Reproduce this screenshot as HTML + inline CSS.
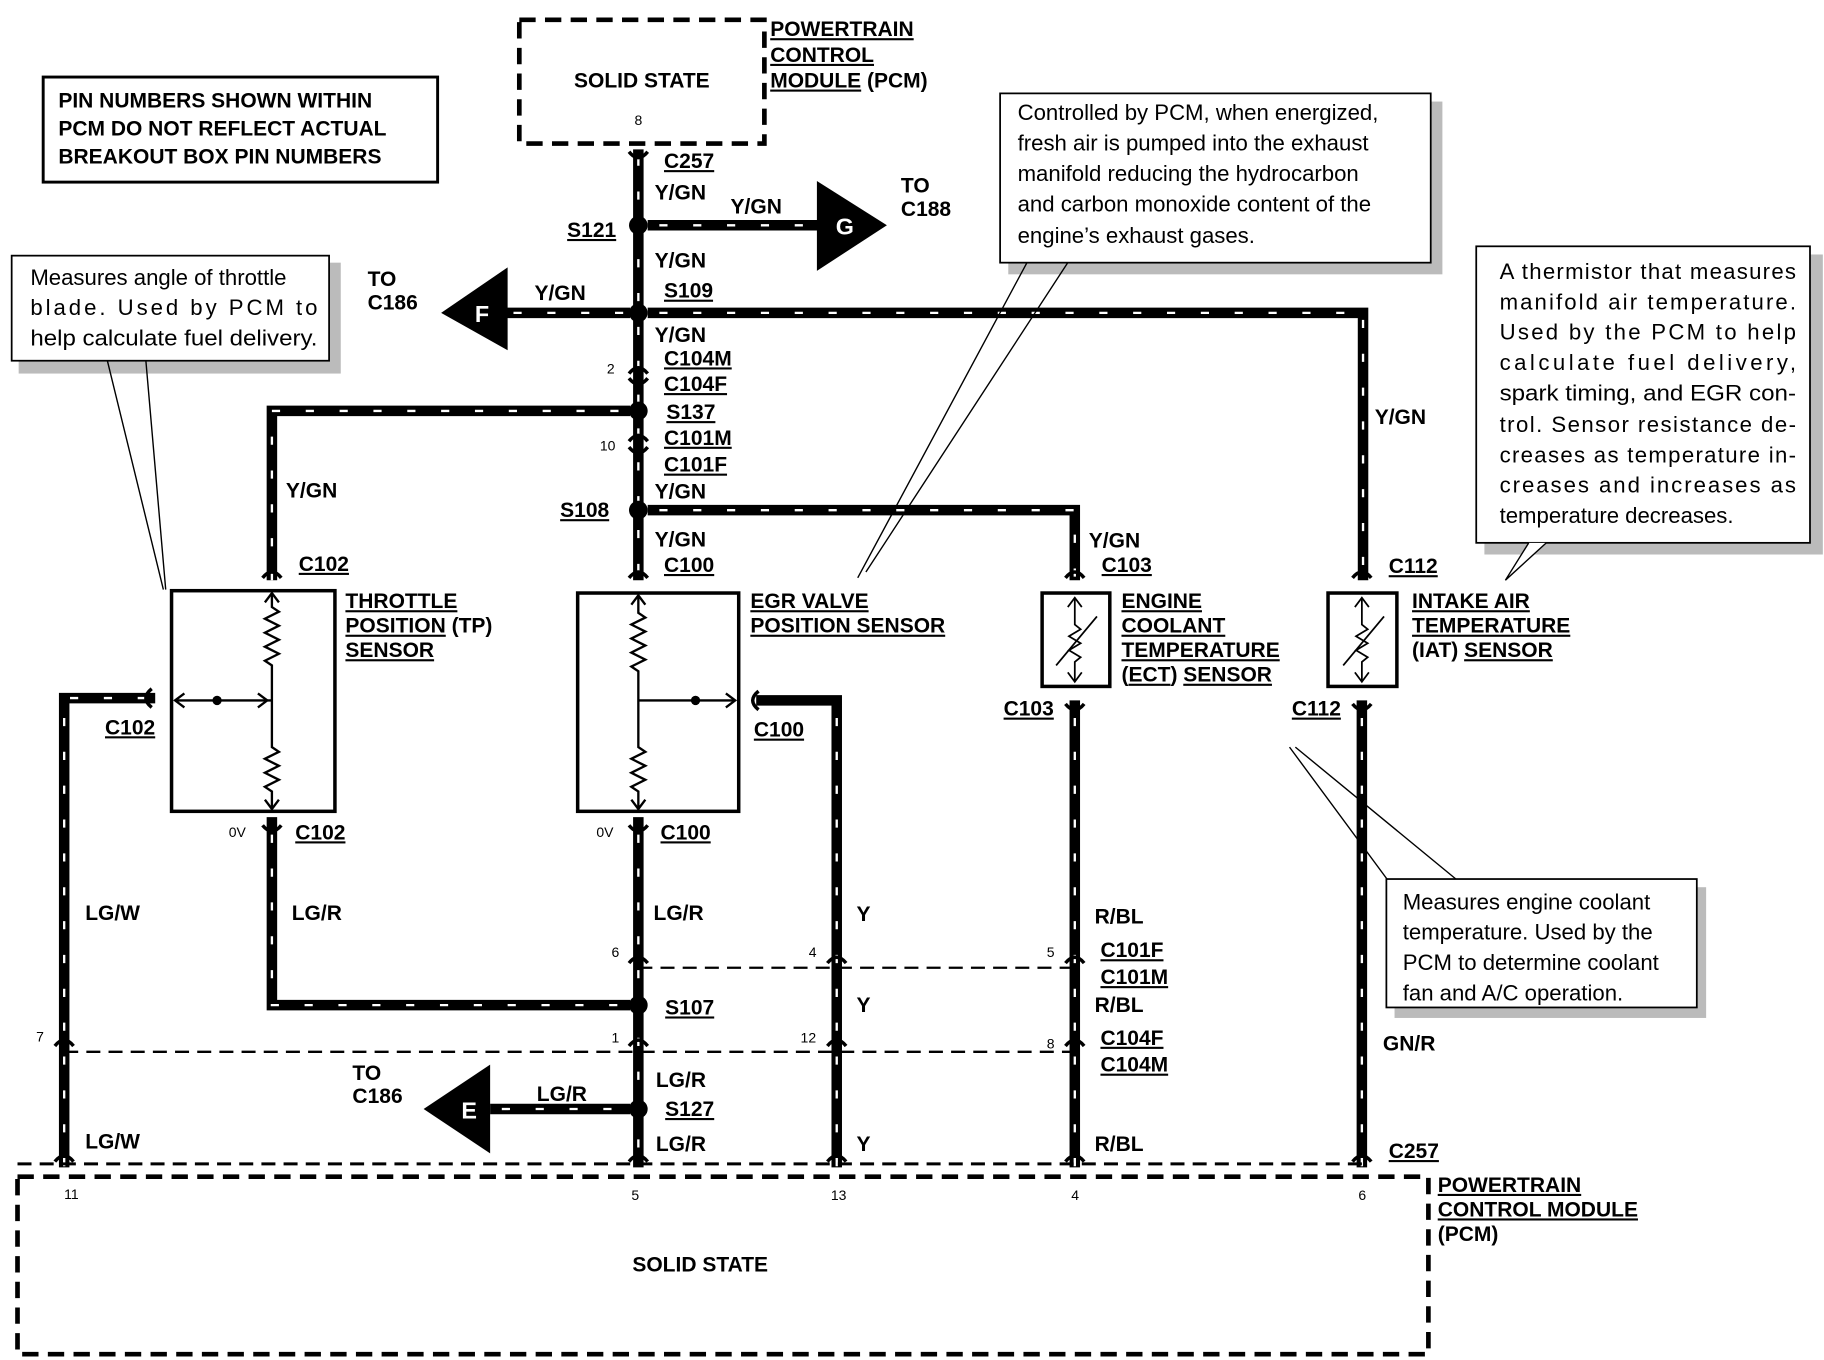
<!DOCTYPE html>
<html><head><meta charset="utf-8"><style>
html,body{margin:0;padding:0;background:#fff}
svg{display:block}
text{font-family:"Liberation Sans",Arial,sans-serif;fill:#000}
.b{font-weight:bold;font-size:18px}
.u{text-decoration:underline}
.n{font-size:19px}
.s{font-size:12px}
.w{fill:none;stroke:#000;stroke-width:9}
.wd{fill:none;stroke:#fff;stroke-width:2;stroke-dasharray:7 22}
.t{fill:none;stroke:#000;stroke-width:2;stroke-dasharray:12 7}
.box{fill:#fff;stroke:#000;stroke-width:3}
.pcm{fill:none;stroke:#000;stroke-width:4;stroke-dasharray:14 8}
.th{fill:none;stroke:#000;stroke-width:1.5}
.sh{fill:#bbb}
</style></head><body>
<svg width="1824" height="1360" viewBox="0 0 1563 1165" preserveAspectRatio="none" xmlns="http://www.w3.org/2000/svg">
<rect x="0" y="0" width="1563" height="1165" fill="#fff"/>

<!-- top PCM -->
<rect x="445" y="17" width="210" height="106" class="pcm"/>
<text x="550" y="75" class="b" text-anchor="middle">SOLID STATE</text>
<text x="547" y="107" class="s" text-anchor="middle">8</text>
<text x="660" y="31" class="b u">POWERTRAIN</text>
<text x="660" y="53" class="b u">CONTROL</text>
<text x="660" y="75" class="b"><tspan class="u">MODULE</tspan> (PCM)</text>

<!-- note -->
<rect x="37" y="66" width="338" height="90" fill="#fff" stroke="#000" stroke-width="2.5"/>
<text x="50" y="92" class="b">PIN NUMBERS SHOWN WITHIN</text>
<text x="50" y="116" class="b">PCM DO NOT REFLECT ACTUAL</text>
<text x="50" y="140" class="b">BREAKOUT BOX PIN NUMBERS</text>

<!-- wires -->
<g>
<path class="w" d="M547 128 V497"/>
<path class="wd" d="M547 135 V497"/>
<path class="w" d="M555 193 H705"/><path class="wd" d="M565 193 H700"/>
<path class="w" d="M430 268 H540"/><path class="wd" d="M440 268 H535"/>
<path class="w" d="M555 268 H1168 V497"/><path class="wd" d="M565 268 H1168 V497"/>
<path class="w" d="M540 352 H233 V497"/><path class="wd" d="M530 352 H233 V497"/>
<path class="w" d="M555 437 H921 V497"/><path class="wd" d="M565 437 H921 V497"/>
<!-- lower -->
<path class="w" d="M133 598 H55 V1000"/><path class="wd" d="M125 598 H55 V1000"/>
<path class="w" d="M233 700 V861 H540"/><path class="wd" d="M233 715 V861 H535"/>
<path class="w" d="M547 700 V1000"/><path class="wd" d="M547 715 V1000"/>
<path class="w" d="M648 600 H717 V1000"/><path class="wd" d="M717 615 V1000"/>
<path class="w" d="M921 600 V1000"/><path class="wd" d="M921 615 V1000"/>
<path class="w" d="M1167 600 V1000"/><path class="wd" d="M1167 615 V1000"/>
<path class="w" d="M420 950 H540"/><path class="wd" d="M430 950 H535"/>
</g>

<!-- splices -->
<g fill="#000">
<circle cx="547" cy="193" r="8"/><circle cx="547" cy="268" r="8"/>
<circle cx="547" cy="352" r="8"/><circle cx="547" cy="437" r="8"/>
<circle cx="547" cy="861" r="8"/><circle cx="547" cy="950" r="8"/>
</g>
<!-- connectors -->
<g fill="none" stroke="#000" stroke-width="3">
<path d="M539 130 Q547 140 555 130"/><path d="M539 320 Q547 310 555 320"/><path d="M539 324 Q547 334 555 324"/>
<path d="M539 378 Q547 368 555 378"/><path d="M539 383 Q547 393 555 383"/>
<path d="M539 495 Q547 485 555 495"/><path d="M225 495 Q233 485 241 495"/>
<path d="M913 495 Q921 485 929 495"/><path d="M1159 495 Q1167 485 1175 495"/>
<path d="M539 707 Q547 717 555 707"/><path d="M225 707 Q233 717 241 707"/>
<path d="M913 603 Q921 613 929 603"/><path d="M1159 603 Q1167 613 1175 603"/>
<path d="M130 590 Q120 598 130 606"/><path d="M650 592 Q640 600 650 608"/>
<g stroke-width="3">
<path d="M539 825 Q547 815 555 825"/><path d="M709 825 Q717 815 725 825"/><path d="M913 825 Q921 815 929 825"/>
<path d="M539 896 Q547 886 555 896"/><path d="M709 896 Q717 886 725 896"/><path d="M913 896 Q921 886 929 896"/><path d="M47 896 Q55 886 63 896"/>
<path d="M539 995 Q547 985 555 995"/><path d="M709 995 Q717 985 725 995"/><path d="M913 995 Q921 985 929 995"/><path d="M1159 995 Q1167 985 1175 995"/><path d="M47 995 Q55 985 63 995"/>
</g>
</g>

<!-- arrows -->
<polygon points="700,155 760,193 700,232" fill="#000"/>
<text x="724" y="201" class="b" fill="#fff" style="fill:#fff;font-size:20px" text-anchor="middle">G</text>
<text x="772" y="165" class="b">TO</text><text x="772" y="185" class="b">C188</text>
<polygon points="378,268 435,229 435,300" fill="#000"/>
<text x="413" y="276" class="b" style="fill:#fff;font-size:20px" text-anchor="middle">F</text>
<text x="315" y="245" class="b">TO</text><text x="315" y="265" class="b">C186</text>
<polygon points="363,950 420,912 420,988" fill="#000"/>
<text x="402" y="958" class="b" style="fill:#fff;font-size:20px" text-anchor="middle">E</text>
<text x="302" y="925" class="b">TO</text><text x="302" y="945" class="b">C186</text>

<!-- dashed signal lines -->
<path class="t" d="M547 829 H921"/>
<path class="t" d="M55 901 H921"/>
<path class="t" d="M15 997 H1168" style="stroke-width:2.5"/>

<!-- labels upper -->
<g class="b">
<text x="569" y="144" class="u">C257</text>
<text x="561" y="171">Y/GN</text>
<text x="626" y="183">Y/GN</text>
<text x="486" y="203" class="u">S121</text>
<text x="561" y="229">Y/GN</text>
<text x="569" y="255" class="u">S109</text>
<text x="458" y="257">Y/GN</text>
<text x="561" y="293">Y/GN</text>
<text x="569" y="313" class="u">C104M</text>
<text x="569" y="335" class="u">C104F</text>
<text x="571" y="359" class="u">S137</text>
<text x="569" y="381" class="u">C101M</text>
<text x="569" y="404" class="u">C101F</text>
<text x="561" y="427">Y/GN</text>
<text x="480" y="443" class="u">S108</text>
<text x="561" y="468">Y/GN</text>
<text x="569" y="490" class="u">C100</text>
<text x="245" y="426">Y/GN</text>
<text x="256" y="489" class="u">C102</text>
<text x="933" y="469">Y/GN</text>
<text x="944" y="490" class="u">C103</text>
<text x="1178" y="363">Y/GN</text>
<text x="1190" y="491" class="u">C112</text>
</g>
<text x="520" y="320" class="s">2</text>
<text x="514" y="386" class="s">10</text>

<!-- TP sensor -->
<rect x="147" y="506" width="140" height="189" class="box"/>
<g fill="none" stroke="#000" stroke-width="2">
<path d="M233 508 V520 l6 4 l-12 6 l12 6 l-12 6 l12 6 l-12 6 l12 6 l-12 6 l6 4 V640 l6 4 l-12 6 l12 6 l-12 6 l12 6 l-12 6 l6 4 V693"/>
<path d="M227 516 L233 508 L239 516"/><path d="M227 685 L233 693 L239 685"/>
<path d="M150 600 H233"/><path d="M158 594 L150 600 L158 606"/><path d="M221 594 L229 600 L221 606"/>
</g>
<circle cx="186" cy="600" r="4"/>
<text x="296" y="521" class="b u">THROTTLE</text>
<text x="296" y="542" class="b"><tspan class="u">POSITION</tspan> (TP)</text>
<text x="296" y="563" class="b u">SENSOR</text>

<!-- EGR sensor -->
<rect x="495" y="508" width="138" height="187" class="box"/>
<g fill="none" stroke="#000" stroke-width="2">
<path d="M547 510 V525 l6 4 l-12 6 l12 6 l-12 6 l12 6 l-12 6 l12 6 l-12 6 l6 4 V640 l6 4 l-12 6 l12 6 l-12 6 l12 6 l-12 6 l6 4 V693"/>
<path d="M541 518 L547 510 L553 518"/><path d="M541 685 L547 693 L553 685"/>
<path d="M547 600 H630"/><path d="M622 594 L630 600 L622 606"/>
</g>
<circle cx="596" cy="600" r="4"/>
<text x="643" y="521" class="b u">EGR VALVE</text>
<text x="643" y="542" class="b u">POSITION SENSOR</text>

<!-- ECT -->
<rect x="893" y="508" width="58" height="80" class="box"/>
<g class="th"><path d="M921 512 V535 l5 4 l-10 6 l10 6 l-10 6 l10 6 l-5 4 V584"/><path d="M905 570 L940 528"/><path d="M915 520 L921 512 L927 520"/><path d="M915 576 L921 584 L927 576"/></g>
<text x="961" y="521" class="b u">ENGINE</text>
<text x="961" y="542" class="b u">COOLANT</text>
<text x="961" y="563" class="b u">TEMPERATURE</text>
<text x="961" y="584" class="b">(<tspan class="u">ECT</tspan>) <tspan class="u">SENSOR</tspan></text>
<!-- IAT -->
<rect x="1138" y="508" width="59" height="80" class="box"/>
<g class="th"><path d="M1167 512 V535 l5 4 l-10 6 l10 6 l-10 6 l10 6 l-5 4 V584"/><path d="M1151 570 L1186 528"/><path d="M1161 520 L1167 512 L1173 520"/><path d="M1161 576 L1167 584 L1173 576"/></g>
<text x="1210" y="521" class="b u">INTAKE AIR</text>
<text x="1210" y="542" class="b u">TEMPERATURE</text>
<text x="1210" y="563" class="b">(IAT) <tspan class="u">SENSOR</tspan></text>

<!-- lower labels -->
<g class="b">
<text x="90" y="629" class="u">C102</text>
<text x="73" y="788">LG/W</text>
<text x="73" y="984">LG/W</text>
<text x="253" y="719" class="u">C102</text>
<text x="250" y="788">LG/R</text>
<text x="566" y="719" class="u">C100</text>
<text x="560" y="788">LG/R</text>
<text x="570" y="869" class="u">S107</text>
<text x="562" y="931">LG/R</text>
<text x="460" y="943">LG/R</text>
<text x="570" y="956" class="u">S127</text>
<text x="562" y="986">LG/R</text>
<text x="646" y="631" class="u">C100</text>
<text x="734" y="789">Y</text>
<text x="734" y="867">Y</text>
<text x="734" y="986">Y</text>
<text x="860" y="613" class="u">C103</text>
<text x="938" y="791">R/BL</text>
<text x="943" y="820" class="u">C101F</text>
<text x="943" y="843" class="u">C101M</text>
<text x="938" y="867">R/BL</text>
<text x="943" y="895" class="u">C104F</text>
<text x="943" y="918" class="u">C104M</text>
<text x="938" y="986">R/BL</text>
<text x="1107" y="613" class="u">C112</text>
<text x="1185" y="900">GN/R</text>
<text x="1190" y="992" class="u">C257</text>
</g>
<g class="s">
<text x="196" y="717">0V</text><text x="511" y="717">0V</text>
<text x="524" y="820">6</text><text x="693" y="820">4</text><text x="897" y="820">5</text>
<text x="31" y="892">7</text><text x="524" y="893">1</text><text x="686" y="893">12</text><text x="897" y="898">8</text>
<text x="55" y="1027">11</text><text x="541" y="1028">5</text><text x="712" y="1028">13</text><text x="918" y="1028">4</text><text x="1164" y="1028">6</text>
</g>

<!-- bottom PCM -->
<rect x="15" y="1008" width="1209" height="152" class="pcm"/>
<text x="600" y="1089" class="b" text-anchor="middle">SOLID STATE</text>
<text x="1232" y="1021" class="b u">POWERTRAIN</text>
<text x="1232" y="1042" class="b u">CONTROL MODULE</text>
<text x="1232" y="1063" class="b">(PCM)</text>

<!-- TP callout -->
<rect x="16" y="225" width="276" height="95" class="sh"/>
<rect x="10" y="219" width="272" height="90" fill="#fff" stroke="#000" stroke-width="1.5"/>
<text x="26" y="244" class="n">Measures angle of throttle</text>
<text x="26" y="270" class="n" textLength="246" lengthAdjust="spacing">blade. Used by PCM to</text>
<text x="26" y="296" class="n" textLength="246" lengthAdjust="spacingAndGlyphs">help calculate fuel delivery.</text>
<path d="M92 309 L140 505 M125 309 L142 505" stroke="#000" stroke-width="1.2" fill="none"/>

<!-- EGR callout -->
<rect x="864" y="87" width="372" height="148" class="sh"/>
<rect x="857" y="80" width="369" height="145" fill="#fff" stroke="#000" stroke-width="1.5"/>
<text x="872" y="103" class="n">Controlled by PCM, when energized,</text>
<text x="872" y="129" class="n">fresh air is pumped into the exhaust</text>
<text x="872" y="155" class="n">manifold reducing the hydrocarbon</text>
<text x="872" y="181" class="n">and carbon monoxide content of the</text>
<text x="872" y="208" class="n">engine’s exhaust gases.</text>
<path d="M880 225 L735 495 M915 225 L742 490" stroke="#000" stroke-width="1.2" fill="none"/>

<!-- IAT callout -->
<rect x="1272" y="218" width="290" height="257" class="sh"/>
<rect x="1265" y="211" width="286" height="254" fill="#fff" stroke="#000" stroke-width="1.5"/>
<g class="n">
<text x="1285" y="239" textLength="254" lengthAdjust="spacing">A thermistor that measures</text>
<text x="1285" y="265" textLength="254" lengthAdjust="spacing">manifold air temperature.</text>
<text x="1285" y="291" textLength="254" lengthAdjust="spacing">Used by the PCM to help</text>
<text x="1285" y="317" textLength="254" lengthAdjust="spacing">calculate fuel delivery,</text>
<text x="1285" y="343" textLength="254" lengthAdjust="spacingAndGlyphs">spark timing, and EGR con-</text>
<text x="1285" y="370" textLength="254" lengthAdjust="spacing">trol. Sensor resistance de-</text>
<text x="1285" y="396" textLength="254" lengthAdjust="spacing">creases as temperature in-</text>
<text x="1285" y="422" textLength="254" lengthAdjust="spacing">creases and increases as</text>
<text x="1285" y="448">temperature decreases.</text>
</g>
<path d="M1310 465 L1290 497 L1325 465" stroke="#000" stroke-width="1.2" fill="#fff"/>

<!-- ECT callout -->
<path d="M1105 640 L1190 755 M1110 640 L1250 755" stroke="#000" stroke-width="1.2" fill="none"/>
<rect x="1195" y="760" width="267" height="112" class="sh"/>
<rect x="1188" y="753" width="266" height="110" fill="#fff" stroke="#000" stroke-width="1.5"/>
<text x="1202" y="779" class="n">Measures engine coolant</text>
<text x="1202" y="805" class="n">temperature.  Used by the</text>
<text x="1202" y="831" class="n">PCM to determine coolant</text>
<text x="1202" y="857" class="n">fan and A/C operation.</text>
</svg>
</body></html>
